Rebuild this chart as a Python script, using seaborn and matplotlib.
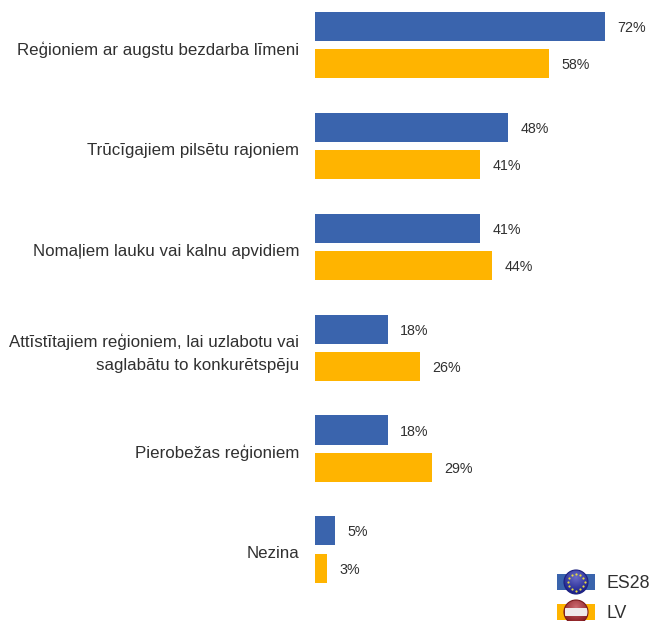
import numpy as np
import pandas as pd
import matplotlib
matplotlib.use('Agg')
import matplotlib.pyplot as plt
from matplotlib.colors import LinearSegmentedColormap
from matplotlib.patches import Circle, Rectangle
from matplotlib.transforms import ScaledTranslation
import seaborn as sns

# ── DATA ──────────────────────────────────────────────────────────────
categories = ['Reģioniem ar augstu bezdarba līmeni',
              'Trūcīgajiem pilsētu rajoniem',
              'Nomaļiem lauku vai kalnu apvidiem',
              'Attīstītajiem reģioniem, lai uzlabotu vai\nsaglabātu to konkurētspēju',
              'Pierobežas reģioniem',
              'Nezina']
es28 = [72, 48, 41, 18, 18, 5]
lv   = [58, 41, 44, 26, 29, 3]
series_names = ['ES28', 'LV']

BLUE   = '#3A64AD'
YELLOW = '#FFB400'
TEXT   = '#303030'

df = pd.DataFrame({'cat': categories, 'ES28': es28, 'LV': lv})
long_df = df.melt(id_vars='cat', var_name='geo', value_name='pct')

# ── FIGURE ────────────────────────────────────────────────────────────
W, H = 650, 621
sns.set_style('white')
plt.rcParams['font.family'] = ['Liberation Sans', 'DejaVu Sans']

fig = plt.figure(figsize=(W / 100, H / 100), dpi=100)
ax = fig.add_axes([315 / W, 0, (W - 315) / W, 1])

sns.barplot(data=long_df, y='cat', x='pct', hue='geo', order=categories,
            hue_order=series_names, palette=[BLUE, YELLOW], saturation=1,
            width=0.736, gap=0.216, linewidth=0, legend=False, ax=ax, orient='h')

ax.set_xlim(0, (W - 315) / 4.03)
ax.set_ylim((H - 45) / 100.9, -45 / 100.9)
sns.despine(ax=ax, left=True, bottom=True)
ax.set_xlabel('')
ax.set_ylabel('')
ax.xaxis.set_visible(False)
ax.tick_params(axis='y', length=0, pad=11.5)
shift = ScaledTranslation(0, -0.03, fig.dpi_scale_trans)
for lab in ax.get_yticklabels():
    lab.set_fontsize(12.2)
    lab.set_color(TEXT)
    lab.set_ha('right')
    lab.set_multialignment('right')
    lab.set_linespacing(1.65)
    if '\n' not in lab.get_text():
        lab.set_transform(lab.get_transform() + shift)

for cont in ax.containers:
    labels = ax.bar_label(cont, fmt='%d%%', padding=9, fontsize=10.3, color=TEXT)
    for t in labels:
        t.set_va('center_baseline')

# ── LEGEND (flags on swatches, pixel coordinates) ─────────────────────
lax = fig.add_axes([0, 0, 1, 1], facecolor='none')
lax.set_xlim(0, W)
lax.set_ylim(H, 0)
lax.axis('off')

def flag(cy, swatch, light, dark, edge):
    lax.add_patch(Rectangle((557, cy - 8), 38, 16, color=swatch, lw=0))
    cmap = LinearSegmentedColormap.from_list('f', [light, dark])
    yy, xx = np.mgrid[-1:1:60j, -1:1:60j]
    im = lax.imshow(np.hypot(xx, yy + 0.4), cmap=cmap, vmin=0, vmax=1.4,
                    extent=(564, 588, cy + 12, cy - 12), zorder=3, aspect='auto')
    clip = Circle((576, cy), 12, transform=lax.transData)
    im.set_clip_path(clip)
    lax.add_patch(Circle((576, cy), 12, fill=False, ec=edge, lw=0.8, zorder=5))

flag(582, BLUE, '#6a6cc8', '#161c88', '#1d2280')
ang = np.arange(12) * np.pi / 6
lax.scatter(576 + 8.5 * np.cos(ang), 582 + 8.5 * np.sin(ang), marker='o', s=2.5,
            color='#e8dc3c', lw=0, zorder=6)

flag(612, YELLOW, '#cc6a70', '#85181c', '#7a1a1c')
lax.add_patch(Rectangle((564.5, 608), 23, 8, color='#f0eaea', lw=0, zorder=4))

lax.set_xlim(0, W)
lax.set_ylim(H, 0)
lax.text(607, 588, series_names[0], fontsize=12.8, color=TEXT, va='baseline')
lax.text(607, 618, series_names[1], fontsize=12.8, color=TEXT, va='baseline')

fig.savefig('out.png', dpi=100)
